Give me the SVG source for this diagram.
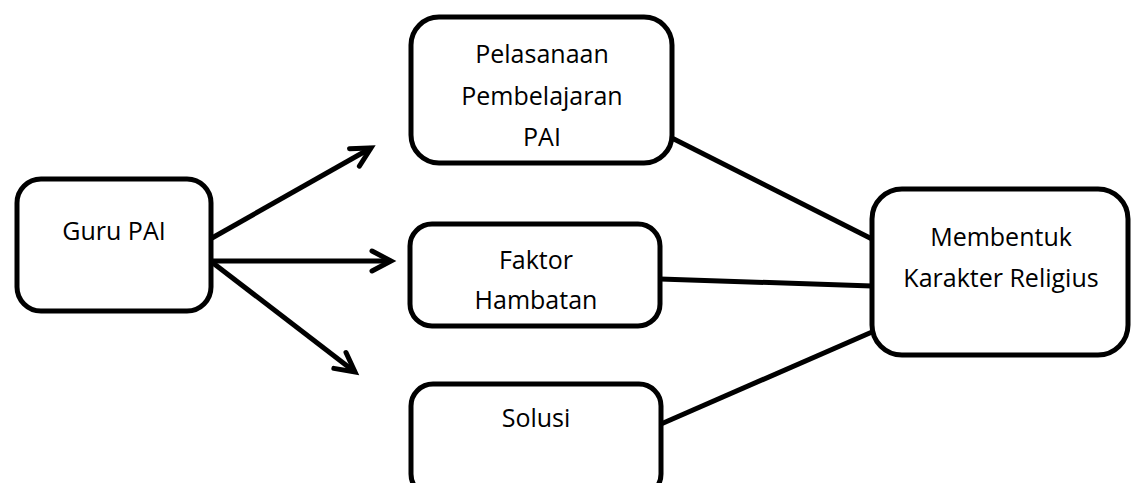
<svg xmlns="http://www.w3.org/2000/svg" width="1132" height="483" viewBox="0 0 1132 483">
  <style>
    .box { fill: #ffffff; stroke: #000000; stroke-width: 5; }
    .lbl { font-family: "Open Sans", "Noto Sans", sans-serif; font-size: 25px; fill: #000000; text-anchor: middle; }
    .con { stroke: #000000; stroke-width: 5; fill: none; }
  </style>
  <defs>
    <marker id="arrow" viewBox="-24 -14 30 28" markerWidth="30" markerHeight="28" refX="0" refY="0" orient="auto" markerUnits="userSpaceOnUse">
      <path d="M -19 -10 L 0 0 L -19 10" fill="none" stroke="#000000" stroke-width="5" stroke-linecap="round" stroke-linejoin="miter"/>
    </marker>
  </defs>
  <rect width="1132" height="483" fill="#ffffff"/>
  <g id="connectors">
    <line class="con" x1="212" y1="238" x2="371" y2="148" marker-end="url(#arrow)"/>
    <line class="con" x1="212" y1="261" x2="391" y2="261" marker-end="url(#arrow)"/>
    <line class="con" x1="213" y1="263" x2="355" y2="372" marker-end="url(#arrow)"/>
    <line class="con" x1="662" y1="133" x2="872" y2="239"/>
    <line class="con" x1="660" y1="279" x2="872" y2="286"/>
    <line class="con" x1="661" y1="424" x2="872" y2="332"/>
  </g>
  <g id="guru">
    <rect class="box" x="17" y="179" width="194" height="132" rx="24"/>
    <text class="lbl" x="114" y="240">Guru PAI</text>
  </g>
  <g id="pelasanaan">
    <rect class="box" x="411" y="17" width="261" height="146" rx="28"/>
    <text class="lbl" x="542" y="63">Pelasanaan</text>
    <text class="lbl" x="542" y="105">Pembelajaran</text>
    <text class="lbl" x="542" y="146">PAI</text>
  </g>
  <g id="faktor">
    <rect class="box" x="410" y="224" width="250" height="102" rx="22"/>
    <text class="lbl" x="536" y="269">Faktor</text>
    <text class="lbl" x="536" y="309">Hambatan</text>
  </g>
  <g id="solusi">
    <rect class="box" x="411" y="384" width="250" height="112" rx="22"/>
    <text class="lbl" x="536" y="427">Solusi</text>
  </g>
  <g id="membentuk">
    <rect class="box" x="872" y="189" width="256" height="166" rx="30"/>
    <text class="lbl" x="1001" y="246">Membentuk</text>
    <text class="lbl" x="1001" y="287">Karakter Religius</text>
  </g>
</svg>
